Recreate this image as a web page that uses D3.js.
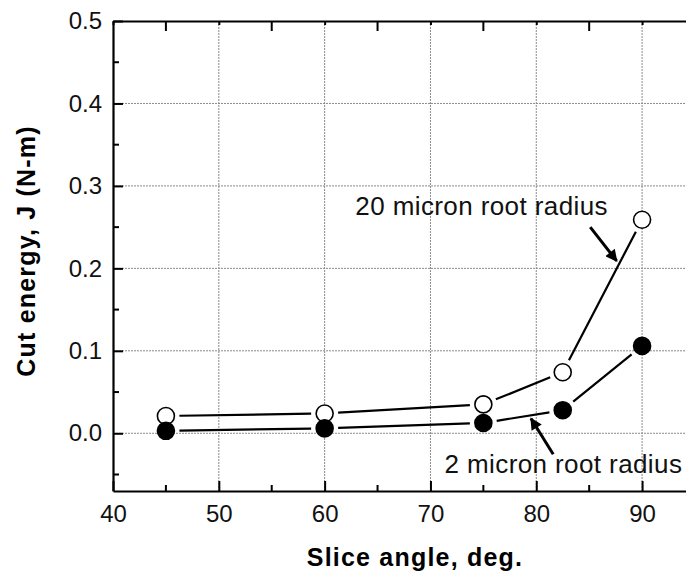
<!DOCTYPE html>
<html>
<head>
<meta charset="utf-8">
<script src="https://cdn.jsdelivr.net/npm/d3@7"></script>
<style>
  body { margin: 0; background: #fff; }
  svg { display: block; font-family: "Liberation Sans", Arial, sans-serif; }
</style>
</head>
<body>
<div id="chart"></div>
<script>
// slice angles (deg.)
var angles = [45, 60, 75, 82.5, 90];
// cut energy, J (N-m)
var micron20 = [0.021, 0.024, 0.035, 0.074, 0.259];
var micron2 = [0.003, 0.006, 0.0125, 0.028, 0.106];

var xTicks = [40, 50, 60, 70, 80, 90];
var xMinorTicks = [45, 55, 65, 75, 85, 95];
var yTicks = [0.0, 0.1, 0.2, 0.3, 0.4, 0.5];
var yMinorTicks = [-0.05, 0.05, 0.15, 0.25, 0.35, 0.45];

// annotations: label anchor + arrow from/to, in data units
var notes = [
  {text: "20 micron root radius", x: 62.9, y: 0.265, anchor: "start",
   from: [85.1, 0.250], to: [87.6, 0.209]},
  {text: "2 micron root radius", x: 93.8, y: -0.0485, anchor: "end",
   from: [81.6, -0.0255], to: [79.5, 0.018]}
];

var W = 686, H = 575;
var margin = {left: 113, top: 21, right: -9, bottom: 84};

var svg = d3.select("#chart").append("svg")
    .attr("width", W)
    .attr("height", H);

var x = d3.scaleLinear().domain([40, 95])
    .range([margin.left, W - margin.right]);
var y = d3.scaleLinear().domain([-0.07, 0.5])
    .range([H - margin.bottom, margin.top]);

var defs = svg.append("defs");
defs.append("marker")
    .attr("id", "head")
    .attr("viewBox", "0 0 10 10")
    .attr("refX", 9).attr("refY", 5)
    .attr("markerWidth", 5).attr("markerHeight", 4)
    .attr("orient", "auto")
    .attr("markerUnits", "strokeWidth")
    .append("path")
    .attr("d", "M0,0 L10,5 L0,10 Z")
    .attr("fill", "#000");

// grid
var grid = svg.append("g").attr("class", "grid");
grid.selectAll(".gx").data(xTicks.slice(1))
  .enter().append("line")
    .attr("x1", function(d) { return x(d); })
    .attr("x2", function(d) { return x(d); })
    .attr("y1", y(-0.07)).attr("y2", y(0.5))
    .attr("stroke", "#8a8a8a").attr("stroke-width", 1)
    .attr("stroke-dasharray", "2,1");
grid.selectAll(".gy").data(yTicks.slice(0, -1))
  .enter().append("line")
    .attr("y1", function(d) { return y(d); })
    .attr("y2", function(d) { return y(d); })
    .attr("x1", x(40)).attr("x2", x(95))
    .attr("stroke", "#8a8a8a").attr("stroke-width", 1)
    .attr("stroke-dasharray", "2,1");

// axes
function styleAxis(g) {
    g.select(".domain").attr("stroke-width", 2.2);
    g.selectAll(".tick line").attr("stroke-width", 2);
    g.selectAll(".tick text").attr("font-size", 24).attr("fill", "#111");
}

var xb = svg.append("g").attr("transform", "translate(0," + y(-0.07) + ")");
xb.call(d3.axisBottom(x).tickValues(xTicks).tickSizeInner(-10).tickSizeOuter(0)
    .tickPadding(14).tickFormat(d3.format("d")));
xb.call(styleAxis);
xb.append("g").selectAll("line").data(xMinorTicks).enter().append("line")
    .attr("x1", function(d) { return x(d); }).attr("x2", function(d) { return x(d); })
    .attr("y1", 0).attr("y2", -6).attr("stroke", "#000").attr("stroke-width", 2);

// top axis: short ticks at the tens, longer ones at the fives
var xt = svg.append("g").attr("transform", "translate(0," + y(0.5) + ")");
xt.call(d3.axisTop(x).tickValues(xTicks).tickSizeInner(-4).tickSizeOuter(0)
    .tickFormat(""));
xt.call(styleAxis);
xt.append("g").selectAll("line").data(xMinorTicks).enter().append("line")
    .attr("x1", function(d) { return x(d); }).attr("x2", function(d) { return x(d); })
    .attr("y1", 0).attr("y2", 10).attr("stroke", "#000").attr("stroke-width", 2);

var yl = svg.append("g").attr("transform", "translate(" + x(40) + ",0)");
yl.call(d3.axisLeft(y).tickValues(yTicks).tickSizeInner(-10).tickSizeOuter(0)
    .tickPadding(11).tickFormat(d3.format(".1f")));
yl.call(styleAxis);
yl.append("g").selectAll("line").data(yMinorTicks).enter().append("line")
    .attr("y1", function(d) { return y(d); }).attr("y2", function(d) { return y(d); })
    .attr("x1", 0).attr("x2", 6).attr("stroke", "#000").attr("stroke-width", 2);

// axis titles
svg.append("text")
    .attr("x", 415).attr("y", 566)
    .attr("text-anchor", "middle")
    .attr("font-size", 25).attr("font-weight", "bold")
    .attr("letter-spacing", 1.2)
    .text("Slice angle, deg.");
svg.append("text")
    .attr("transform", "translate(35," + 251 + ") rotate(-90)")
    .attr("text-anchor", "middle")
    .attr("font-size", 25).attr("font-weight", "bold")
    .attr("letter-spacing", 1.2)
    .text("Cut energy, J (N-m)");

// series
var R = 8.5, GAP = 5;
var series = [
  {values: micron20, fill: "#fff"},
  {values: micron2, fill: "#000"}
];

series.forEach(function(s) {
    var pts = angles.map(function(a, i) { return [x(a), y(s.values[i])]; });
    var segs = d3.pairs(pts).map(function(p) {
        var dx = p[1][0] - p[0][0], dy = p[1][1] - p[0][1];
        var len = Math.sqrt(dx * dx + dy * dy), k = (R + GAP) / len;
        return [p[0][0] + dx * k, p[0][1] + dy * k, p[1][0] - dx * k, p[1][1] - dy * k];
    });
    svg.append("g").selectAll("line").data(segs).enter().append("line")
        .attr("x1", function(d) { return d[0]; })
        .attr("y1", function(d) { return d[1]; })
        .attr("x2", function(d) { return d[2]; })
        .attr("y2", function(d) { return d[3]; })
        .attr("stroke", "#000").attr("stroke-width", 2.2);
    svg.append("g").selectAll("circle").data(pts).enter().append("circle")
        .attr("cx", function(d) { return d[0]; })
        .attr("cy", function(d) { return d[1]; })
        .attr("r", R)
        .attr("fill", s.fill)
        .attr("stroke", "#000").attr("stroke-width", 1.6);
});

// annotations
var ann = svg.append("g").selectAll("g").data(notes).enter().append("g");
ann.append("text")
    .attr("x", function(d) { return x(d.x); })
    .attr("y", function(d) { return y(d.y); })
    .attr("text-anchor", function(d) { return d.anchor; })
    .attr("font-size", 26).attr("fill", "#111")
    .attr("letter-spacing", 0.4)
    .text(function(d) { return d.text; });
ann.append("line")
    .attr("x1", function(d) { return x(d.from[0]); })
    .attr("y1", function(d) { return y(d.from[1]); })
    .attr("x2", function(d) { return x(d.to[0]); })
    .attr("y2", function(d) { return y(d.to[1]); })
    .attr("stroke", "#000").attr("stroke-width", 3)
    .attr("marker-end", "url(#head)");
</script>
</body>
</html>
